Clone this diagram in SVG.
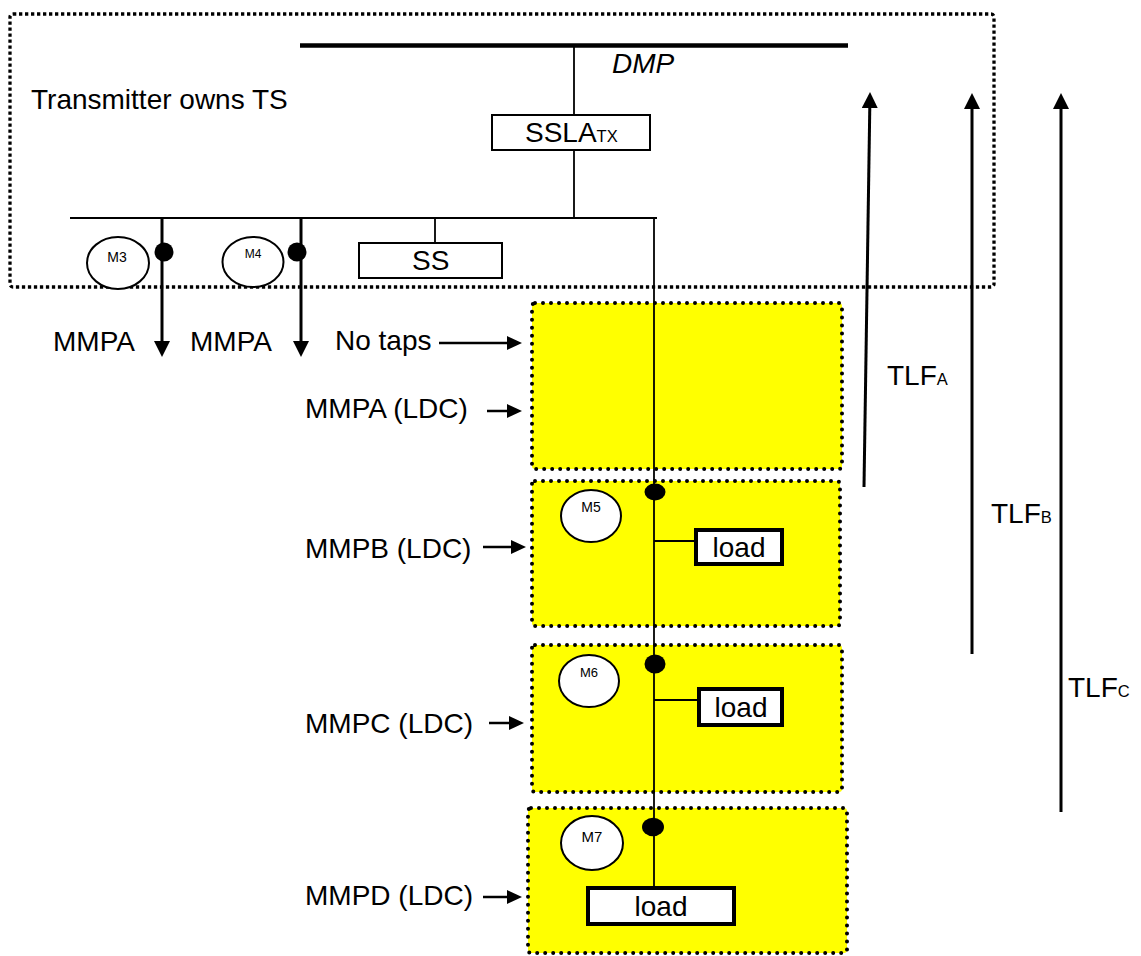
<svg xmlns="http://www.w3.org/2000/svg" width="1141" height="956" viewBox="0 0 1141 956">
<style>
text{font-family:"Liberation Sans",Arial,sans-serif;fill:#000}
.lbl{font-size:28px}
.sub{font-size:16.5px}
.mt{font-size:14px;text-anchor:middle}
.thin{stroke:#000;stroke-width:1.8;fill:none}
.thick{stroke:#000;stroke-width:3;fill:none}
.yb{fill:#FFFF00;stroke:#000;stroke-width:4;stroke-dasharray:0 8;stroke-linecap:round}
.meter{fill:#fff;stroke:#000;stroke-width:2}
.dot{fill:#000}
.load{fill:#fff;stroke:#000;stroke-width:4}
.box{fill:#fff;stroke:#000;stroke-width:2}
</style>
<defs>
<marker id="ah" viewBox="0 0 16 16" markerWidth="16" markerHeight="16" refX="8" refY="8" orient="auto" markerUnits="userSpaceOnUse"><path d="M0,0 L16,8 L0,16 z" fill="#000"/></marker>
<marker id="ahs" viewBox="0 0 15 14" markerWidth="15" markerHeight="14" refX="7" refY="7" orient="auto" markerUnits="userSpaceOnUse"><path d="M0,0 L15,7 L0,14 z" fill="#000"/></marker>
</defs>

<g id="ts-boundary">
<rect x="10" y="14" width="984" height="273" rx="3" fill="none" stroke="#000" stroke-width="3.3" stroke-dasharray="3.3 2.7"/>
<text class="lbl" x="31" y="109">Transmitter owns TS</text>
</g>

<g id="ldc-a"><rect class="yb" x="532" y="303" width="310" height="166" rx="3"/></g>
<g id="ldc-b"><rect class="yb" x="532" y="481" width="308" height="145" rx="3"/></g>
<g id="ldc-c"><rect class="yb" x="532" y="645" width="310" height="147" rx="3"/></g>
<g id="ldc-d"><rect class="yb" x="528" y="808" width="319" height="145" rx="3"/></g>

<g id="connectors">
<line x1="300" y1="45.5" x2="848" y2="45.5" stroke="#000" stroke-width="4.3"/>
<line class="thin" x1="574" y1="45" x2="574" y2="115"/>
<line class="thin" x1="574" y1="150" x2="574" y2="218"/>
<line class="thin" x1="70" y1="218" x2="657" y2="218"/>
<line class="thin" x1="435" y1="218" x2="435" y2="243"/>
<line class="thin" x1="654" y1="218" x2="654" y2="886"/>
<line class="thin" x1="654" y1="541" x2="695" y2="541"/>
<line class="thin" x1="654" y1="700" x2="698" y2="700"/>
<line class="thick" x1="162" y1="218" x2="162" y2="349" marker-end="url(#ah)"/>
<line class="thick" x1="301" y1="218" x2="301" y2="349" marker-end="url(#ah)"/>
<line stroke="#000" stroke-width="2.5" x1="439" y1="343" x2="514" y2="343" marker-end="url(#ahs)"/>
<line stroke="#000" stroke-width="2.5" x1="487" y1="411" x2="514" y2="411" marker-end="url(#ahs)"/>
<line stroke="#000" stroke-width="2.5" x1="483" y1="547" x2="518" y2="547" marker-end="url(#ahs)"/>
<line stroke="#000" stroke-width="2.5" x1="489" y1="723" x2="516" y2="723" marker-end="url(#ahs)"/>
<line stroke="#000" stroke-width="2.5" x1="483" y1="897" x2="514" y2="897" marker-end="url(#ahs)"/>
<line class="thick" x1="864" y1="487" x2="869.9" y2="100" marker-end="url(#ah)"/>
<line class="thick" x1="972" y1="654" x2="972" y2="101" marker-end="url(#ah)"/>
<line class="thick" x1="1061" y1="812" x2="1061" y2="101" marker-end="url(#ah)"/>
</g>

<g id="dmp"><text class="lbl" x="612" y="73" font-style="italic">DMP</text></g>

<g id="ssla">
<rect class="box" x="492" y="115" width="158" height="35"/>
<text x="525" y="142"><tspan class="lbl">SSLA</tspan><tspan class="sub">TX</tspan></text>
</g>

<g id="ss">
<rect class="box" x="359" y="243" width="143" height="35"/>
<text class="lbl" x="412" y="270">SS</text>
</g>

<g id="m3">
<ellipse class="meter" cx="118" cy="263" rx="31" ry="26"/>
<text class="mt" x="117" y="262">M3</text>
<circle class="dot" cx="164" cy="252" r="9.5"/>
</g>
<g id="m4">
<ellipse class="meter" cx="253" cy="262" rx="30.5" ry="25"/>
<text class="mt" x="253" y="258" style="font-size:12px">M4</text>
<circle class="dot" cx="297" cy="252" r="9.5"/>
</g>

<g id="labels-left">
<text class="lbl" x="53" y="351">MMPA</text>
<text class="lbl" x="190" y="351">MMPA</text>
<text class="lbl" x="335" y="350">No taps</text>
<text class="lbl" x="305" y="418">MMPA (LDC)</text>
<text class="lbl" x="305" y="558">MMPB (LDC)</text>
<text class="lbl" x="305" y="733">MMPC (LDC)</text>
<text class="lbl" x="305" y="905">MMPD (LDC)</text>
</g>

<g id="m5">
<ellipse class="meter" cx="591" cy="516" rx="30" ry="26"/>
<text class="mt" x="591" y="512">M5</text>
<ellipse class="dot" cx="655" cy="492" rx="10.5" ry="8.5"/>
</g>
<g id="load-b">
<rect class="load" x="696" y="530" width="86" height="34"/>
<text class="lbl" x="739" y="557" text-anchor="middle">load</text>
</g>

<g id="m6">
<ellipse class="meter" cx="589" cy="681" rx="30" ry="26"/>
<text class="mt" x="589" y="677" style="font-size:13px">M6</text>
<ellipse class="dot" cx="655" cy="664" rx="10.5" ry="9.5"/>
</g>
<g id="load-c">
<rect class="load" x="699" y="689" width="83" height="36"/>
<text class="lbl" x="741" y="717" text-anchor="middle">load</text>
</g>

<g id="m7">
<ellipse class="meter" cx="592" cy="843" rx="31" ry="27"/>
<text class="mt" x="592" y="842" style="font-size:15px">M7</text>
<ellipse class="dot" cx="653" cy="827" rx="11" ry="9.2"/>
</g>
<g id="load-d">
<rect class="load" x="588" y="888" width="146" height="36"/>
<text class="lbl" x="661" y="916" text-anchor="middle">load</text>
</g>

<g id="tlf-labels">
<text x="887" y="385"><tspan class="lbl">TLF</tspan><tspan class="sub">A</tspan></text>
<text x="991" y="523"><tspan class="lbl">TLF</tspan><tspan class="sub">B</tspan></text>
<text x="1068" y="697"><tspan class="lbl">TLF</tspan><tspan class="sub">C</tspan></text>
</g>
</svg>
